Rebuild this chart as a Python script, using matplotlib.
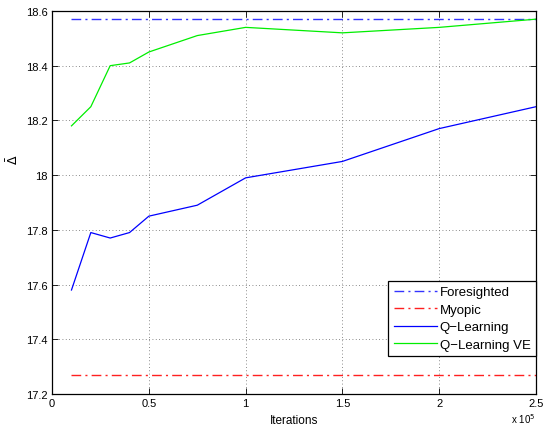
import matplotlib
matplotlib.use("Agg")
import matplotlib.pyplot as plt
from matplotlib.ticker import FuncFormatter

iterations = [10000, 20000, 30000, 40000, 50000, 75000, 100000, 150000, 200000, 250000]
q_learning = [17.58, 17.79, 17.77, 17.79, 17.85, 17.89, 17.99, 18.05, 18.17, 18.25]
q_learning_ve = [18.18, 18.25, 18.40, 18.41, 18.45, 18.51, 18.54, 18.52, 18.54, 18.57]
foresighted = 18.57
myopic = 17.27

plt.rcParams['font.family'] = ['Liberation Sans', 'DejaVu Sans']

fig = plt.figure(figsize=(5.43, 4.27), dpi=100)
ax = fig.add_axes([0.096, 0.075, 0.891, 0.897])

dd = (0, (7, 3, 1.5, 3))
ax.plot(iterations, [foresighted] * len(iterations), color='#3333ff', linestyle=dd, linewidth=1.0, label='Foresighted')
ax.plot(iterations, [myopic] * len(iterations), color='#ff2020', linestyle=dd, linewidth=1.0, label='Myopic')
ax.plot(iterations, q_learning, color='#0000ff', linewidth=0.9, label='Q\u2212Learning')
ax.plot(iterations, q_learning_ve, color='#00ee00', linewidth=0.9, label='Q\u2212Learning VE')

ax.set_xlim(0, 250000)
ax.set_ylim(17.2, 18.6)
ax.set_xticks([0, 50000, 100000, 150000, 200000, 250000])
ax.xaxis.set_major_formatter(FuncFormatter(lambda v, p: ('%g' % (v / 1e5))))
ax.set_yticks([17.2, 17.4, 17.6, 17.8, 18.0, 18.2, 18.4, 18.6])
ax.yaxis.set_major_formatter(FuncFormatter(lambda v, p: ('%g' % round(v, 1))))
ax.tick_params(direction='in', top=True, right=True, labelsize=8, length=4, width=0.6, pad=3)
ax.grid(True, linestyle=(0, (1, 3)), color='#666666', linewidth=0.6)
for s in ax.spines.values():
    s.set_linewidth(0.9)

ax.set_xlabel('Iterations', fontsize=8.5, labelpad=4)
ax.set_ylabel(r'$\bar{\Delta}$', fontsize=9)
ax.yaxis.set_label_coords(-0.065, 0.614)
ax.text(0.998, -0.062, r'x 10$^5$', transform=ax.transAxes, fontsize=7, ha='right', va='center')

leg = ax.legend(loc='lower right', bbox_to_anchor=(1.0, 0.099), borderaxespad=0, fontsize=9.5,
                fancybox=False, edgecolor='black', framealpha=1, handlelength=3.3,
                handletextpad=0.2, borderpad=0.4, labelspacing=0.4)
leg.get_frame().set_linewidth(0.9)

fig.savefig('out.png', dpi=100)
